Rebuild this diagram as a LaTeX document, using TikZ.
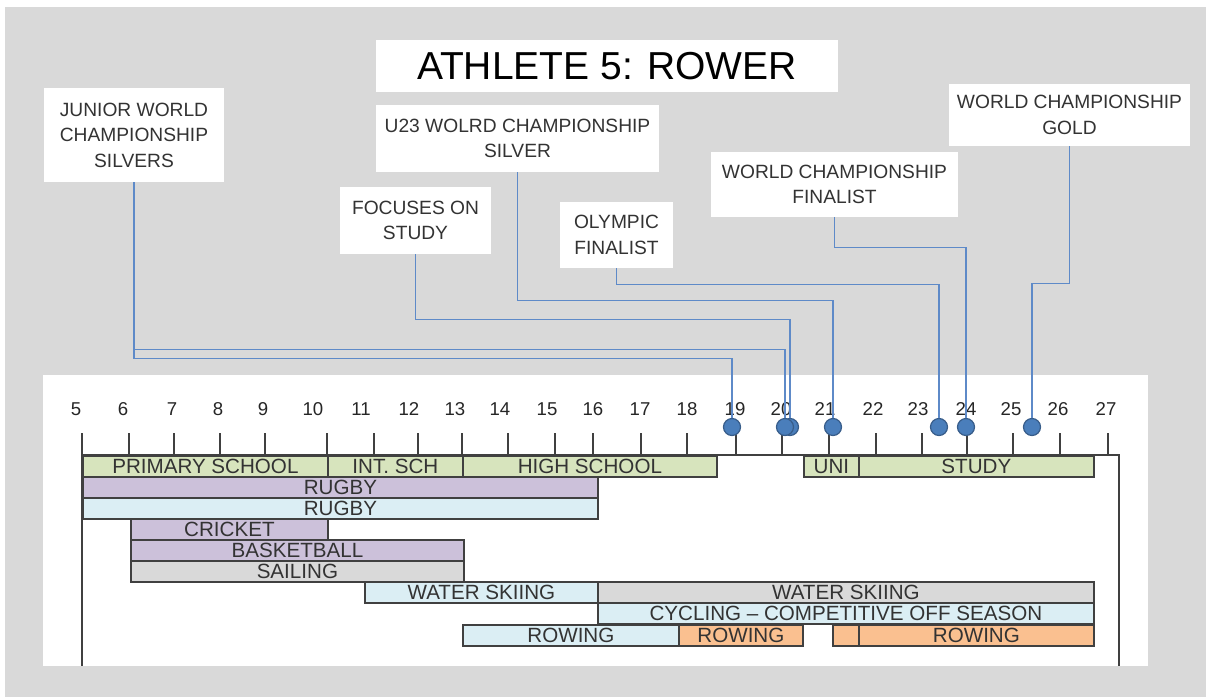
\documentclass[tikz,border=0pt]{standalone}
\usepackage{fontspec}
\setmainfont{Liberation Sans}
\usetikzlibrary{positioning}

\definecolor{backgray}{HTML}{D9D9D9}
\definecolor{schoolgreen}{HTML}{D7E4BD}
\definecolor{sportpurple}{HTML}{CCC1DA}
\definecolor{sportblue}{HTML}{DBEEF4}
\definecolor{sportgray}{HTML}{D9D9D9}
\definecolor{roworange}{HTML}{FAC090}
\definecolor{outline}{HTML}{404040}
\definecolor{labeltext}{HTML}{333333}
\definecolor{linkblue}{RGB}{94,138,200}
\definecolor{dotblue}{HTML}{4A7EBB}
\definecolor{dotedge}{HTML}{385D8A}

\begin{document}
\begin{tikzpicture}[x=0.5pt,y=-0.5pt,
  eventbox/.style={fill=white,align=center,text=labeltext,inner sep=0pt,font=\fontsize{9.6}{12.7}\selectfont},
  timebar/.style={draw=outline,line width=0.9pt,inner sep=0pt,minimum height=10.5pt,anchor=north west,text=labeltext,font=\fontsize{10.3}{12}\selectfont},
  eventdot/.style={circle,fill=dotblue,draw=dotedge,line width=0.6pt,minimum size=8.5pt,inner sep=0pt},
  eventlink/.style={draw=linkblue,line width=0.8pt},
  axisline/.style={draw=outline,line width=1pt},
  yearlabel/.style={text=black!85,font=\fontsize{9.3}{11}\selectfont}]
  \useasboundingbox (0,0) rectangle (1207,697);
  \fill[white] (0,0) rectangle (1207,697);
  \fill[backgray] (5,7) rectangle (1206,697);
  \fill[white] (43,375) rectangle (1148,666);

  % title and events
  \node[eventbox,minimum width=231pt,minimum height=26pt,text=black,font=\fontsize{19.5}{22}\selectfont] (title) at (607,66) {ATHLETE 5: ROWER};
  \node[eventbox,minimum width=90pt,minimum height=47pt] (jun) at (134,135) {JUNIOR WORLD\\CHAMPIONSHIP\\SILVERS};
  \node[eventbox,minimum width=141.5pt,minimum height=33.5pt] (u23) at (517.5,138.5) {U23 WOLRD CHAMPIONSHIP\\SILVER};
  \node[eventbox,minimum width=75.5pt,minimum height=33.5pt] (foc) at (415.5,220.5) {FOCUSES ON\\STUDY};
  \node[eventbox,minimum width=56.5pt,minimum height=33pt] (oly) at (616.5,235) {OLYMPIC\\FINALIST};
  \node[eventbox,minimum width=123.5pt,minimum height=32.5pt] (wcf) at (834.5,184.5) {WORLD CHAMPIONSHIP\\FINALIST};
  \node[eventbox,minimum width=120.5pt,minimum height=31pt] (gold) at (1069.5,115) {WORLD CHAMPIONSHIP\\GOLD};

  % axis
  \draw[axisline] (82,433) -- (82,666);
  \draw[axisline] (82,455) -- (1119,455) -- (1119,666);
  \foreach \tx/\lx/\yr in {82/76/5,129/123/6,174/172/7,220/218/8,265/263/9,327/313/10,374/361/11,418/409/12,
      462/455/13,508/500/14,555/547/15,593/593/16,641/640/17,687/687/18,736/735/19,782/781/20,829/825/21,
      876/873/22,922/918/23,967/966/24,1013/1011/25,1060/1058/26,1108/1106/27}{
    \draw[axisline] (\tx,433) -- (\tx,455);
    \node[yearlabel] (yr\yr) at (\lx,409) {\yr};
  }

  % bars
  \node[timebar,fill=schoolgreen,minimum width=122.5pt] (prim) at (82,455) {PRIMARY SCHOOL};
  \node[timebar,fill=schoolgreen,minimum width=67.5pt] (int) at (327,455) {INT. SCH};
  \node[timebar,fill=schoolgreen,minimum width=127pt] (high) at (462,455) {HIGH SCHOOL};
  \node[timebar,fill=schoolgreen,minimum width=27.5pt] (uni) at (803,455) {UNI};
  \node[timebar,fill=schoolgreen,minimum width=117.5pt] (study) at (858,455) {STUDY};
  \node[timebar,fill=sportpurple,minimum width=257.5pt] (rugbyp) at (82,476) {RUGBY};
  \node[timebar,fill=sportblue,minimum width=257.5pt] (rugbyb) at (82,497) {RUGBY};
  \node[timebar,fill=sportpurple,minimum width=98.5pt] (cricket) at (130,518) {CRICKET};
  \node[timebar,fill=sportpurple,minimum width=166.5pt] (basket) at (130,539) {BASKETBALL};
  \node[timebar,fill=sportgray,minimum width=166.5pt] (sailing) at (130,560) {SAILING};
  \node[timebar,fill=sportblue,minimum width=116.5pt] (skia) at (364,581) {WATER SKIING};
  \node[timebar,fill=sportgray,minimum width=248pt] (skib) at (597,581) {WATER SKIING};
  \node[timebar,fill=sportblue,minimum width=248pt] (cycling) at (597,602) {CYCLING -- COMPETITIVE OFF SEASON};
  \node[timebar,fill=sportblue,minimum width=108pt] (rowa) at (462,624) {ROWING};
  \node[timebar,fill=roworange,minimum width=62pt] (rowb) at (678,624) {ROWING};
  \node[timebar,fill=roworange,minimum width=13pt] (rowc) at (832,624) {};
  \node[timebar,fill=roworange,minimum width=117.5pt] (rowd) at (858,624) {ROWING};

  % event dots
  \node[eventdot] (b20b) at (790,427) {};
  \node[eventdot] (b20a) at (785,427) {};
  \node[eventdot] (b19) at (732,427) {};
  \node[eventdot] (b21) at (833,427) {};
  \node[eventdot] (b23) at (939,427) {};
  \node[eventdot] (b24) at (966,427) {};
  \node[eventdot] (b25) at (1032,427) {};

  % connectors
  \draw[eventlink] (jun.south) -- ++(0,176) -| (b19);
  \draw[eventlink] (jun.south) -- ++(0,167) -| (b20a);
  \draw[eventlink] (foc.south) -- ++(0,65) -| (b20b);
  \draw[eventlink] (u23.south) -- ++(0,128) -| (b21);
  \draw[eventlink] (oly.south) -- ++(0,16) -| (b23);
  \draw[eventlink] (wcf.south) -- ++(0,30) -| (b24);
  \draw[eventlink] (gold.south) -- ++(0,137) -| (b25);
\end{tikzpicture}
\end{document}
